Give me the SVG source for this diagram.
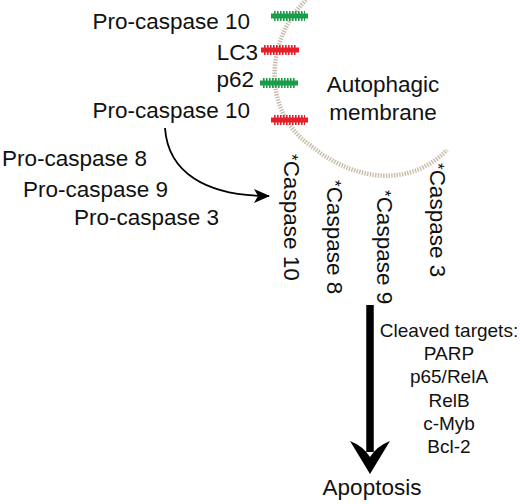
<svg xmlns="http://www.w3.org/2000/svg" width="520" height="504" viewBox="0 0 520 504">
<style>
text{font-family:"Liberation Sans",Arial,sans-serif;font-size:22.5px;fill:#111}
.sm{font-size:19px}
.ast{font-size:17px}
.mem{fill:none;stroke:#c9bba8;stroke-width:4.5;stroke-dasharray:1.4 1.3}
.core{stroke-width:5;fill:none}
.teeth{stroke-width:10;fill:none;stroke-dasharray:1.6 1.4}
.g{stroke:#1a9c4a}
.r{stroke:#e5202a}
</style>
<defs>
<marker id="ah" viewBox="0 0 16 14" refX="15" refY="7" markerWidth="16" markerHeight="14" markerUnits="userSpaceOnUse" orient="auto">
<path d="M0,0 L16,7 L0,14 L4,7 Z" fill="#000"/>
</marker>
</defs>
<g id="membrane">
<path class="mem" d="M306,0 C265,40 262,112 310,145 C348,177 405,192 447,150"/>
<text x="383" y="92" text-anchor="middle">Autophagic</text>
<text x="383" y="120" text-anchor="middle">membrane</text>
</g>
<g id="protein-green-1"><line class="core g" x1="271" y1="16" x2="308" y2="16"/><line class="teeth g" x1="274" y1="16" x2="305" y2="16"/></g>
<g id="protein-red-1"><line class="core r" x1="261" y1="50" x2="299" y2="50"/><line class="teeth r" x1="264" y1="50" x2="296" y2="50"/></g>
<g id="protein-green-2"><line class="core g" x1="260" y1="83" x2="298" y2="83"/><line class="teeth g" x1="263" y1="83" x2="295" y2="83"/></g>
<g id="protein-red-2"><line class="core r" x1="271" y1="120" x2="308" y2="120"/><line class="teeth r" x1="274" y1="120" x2="305" y2="120"/></g>
<g id="labels-top">
<text x="250" y="29" text-anchor="end">Pro-caspase 10</text>
<text x="258" y="60" text-anchor="end">LC3</text>
<text x="254" y="87" text-anchor="end">p62</text>
<text x="250" y="118" text-anchor="end">Pro-caspase 10</text>
</g>
<g id="labels-left">
<text x="2" y="166">Pro-caspase 8</text>
<text x="23" y="197">Pro-caspase 9</text>
<text x="74" y="225">Pro-caspase 3</text>
</g>
<g id="caspases">
<text transform="translate(284,154) rotate(90)"><tspan class="ast" dy="-2">*</tspan><tspan dy="2">Caspase 10</tspan></text>
<text transform="translate(327,180) rotate(90)"><tspan class="ast" dy="-2">*</tspan><tspan dy="2">Caspase 8</tspan></text>
<text transform="translate(377,190) rotate(90)"><tspan class="ast" dy="-2">*</tspan><tspan dy="2">Caspase 9</tspan></text>
<text transform="translate(430,163) rotate(90)"><tspan class="ast" dy="-2">*</tspan><tspan dy="2">Caspase 3</tspan></text>
</g>
<g id="targets">
<text class="sm" x="449" y="337" text-anchor="middle">Cleaved targets:</text>
<text class="sm" x="449" y="360" text-anchor="middle">PARP</text>
<text class="sm" x="449" y="383" text-anchor="middle">p65/RelA</text>
<text class="sm" x="449" y="407" text-anchor="middle">RelB</text>
<text class="sm" x="449" y="430" text-anchor="middle">c-Myb</text>
<text class="sm" x="449" y="453" text-anchor="middle">Bcl-2</text>
</g>
<g id="apoptosis"><text x="372" y="495" text-anchor="middle">Apoptosis</text></g>
<g id="connectors">
<path d="M165,128 C168,172 205,196 269,196" fill="none" stroke="#000" stroke-width="1.8" marker-end="url(#ah)"/>
<line x1="370" y1="305" x2="370" y2="452" stroke="#000" stroke-width="7.5"/>
<path d="M350,441 Q363,446 370,457 Q377,446 390,441 L370,474 Z" fill="#000"/>
</g>
</svg>
